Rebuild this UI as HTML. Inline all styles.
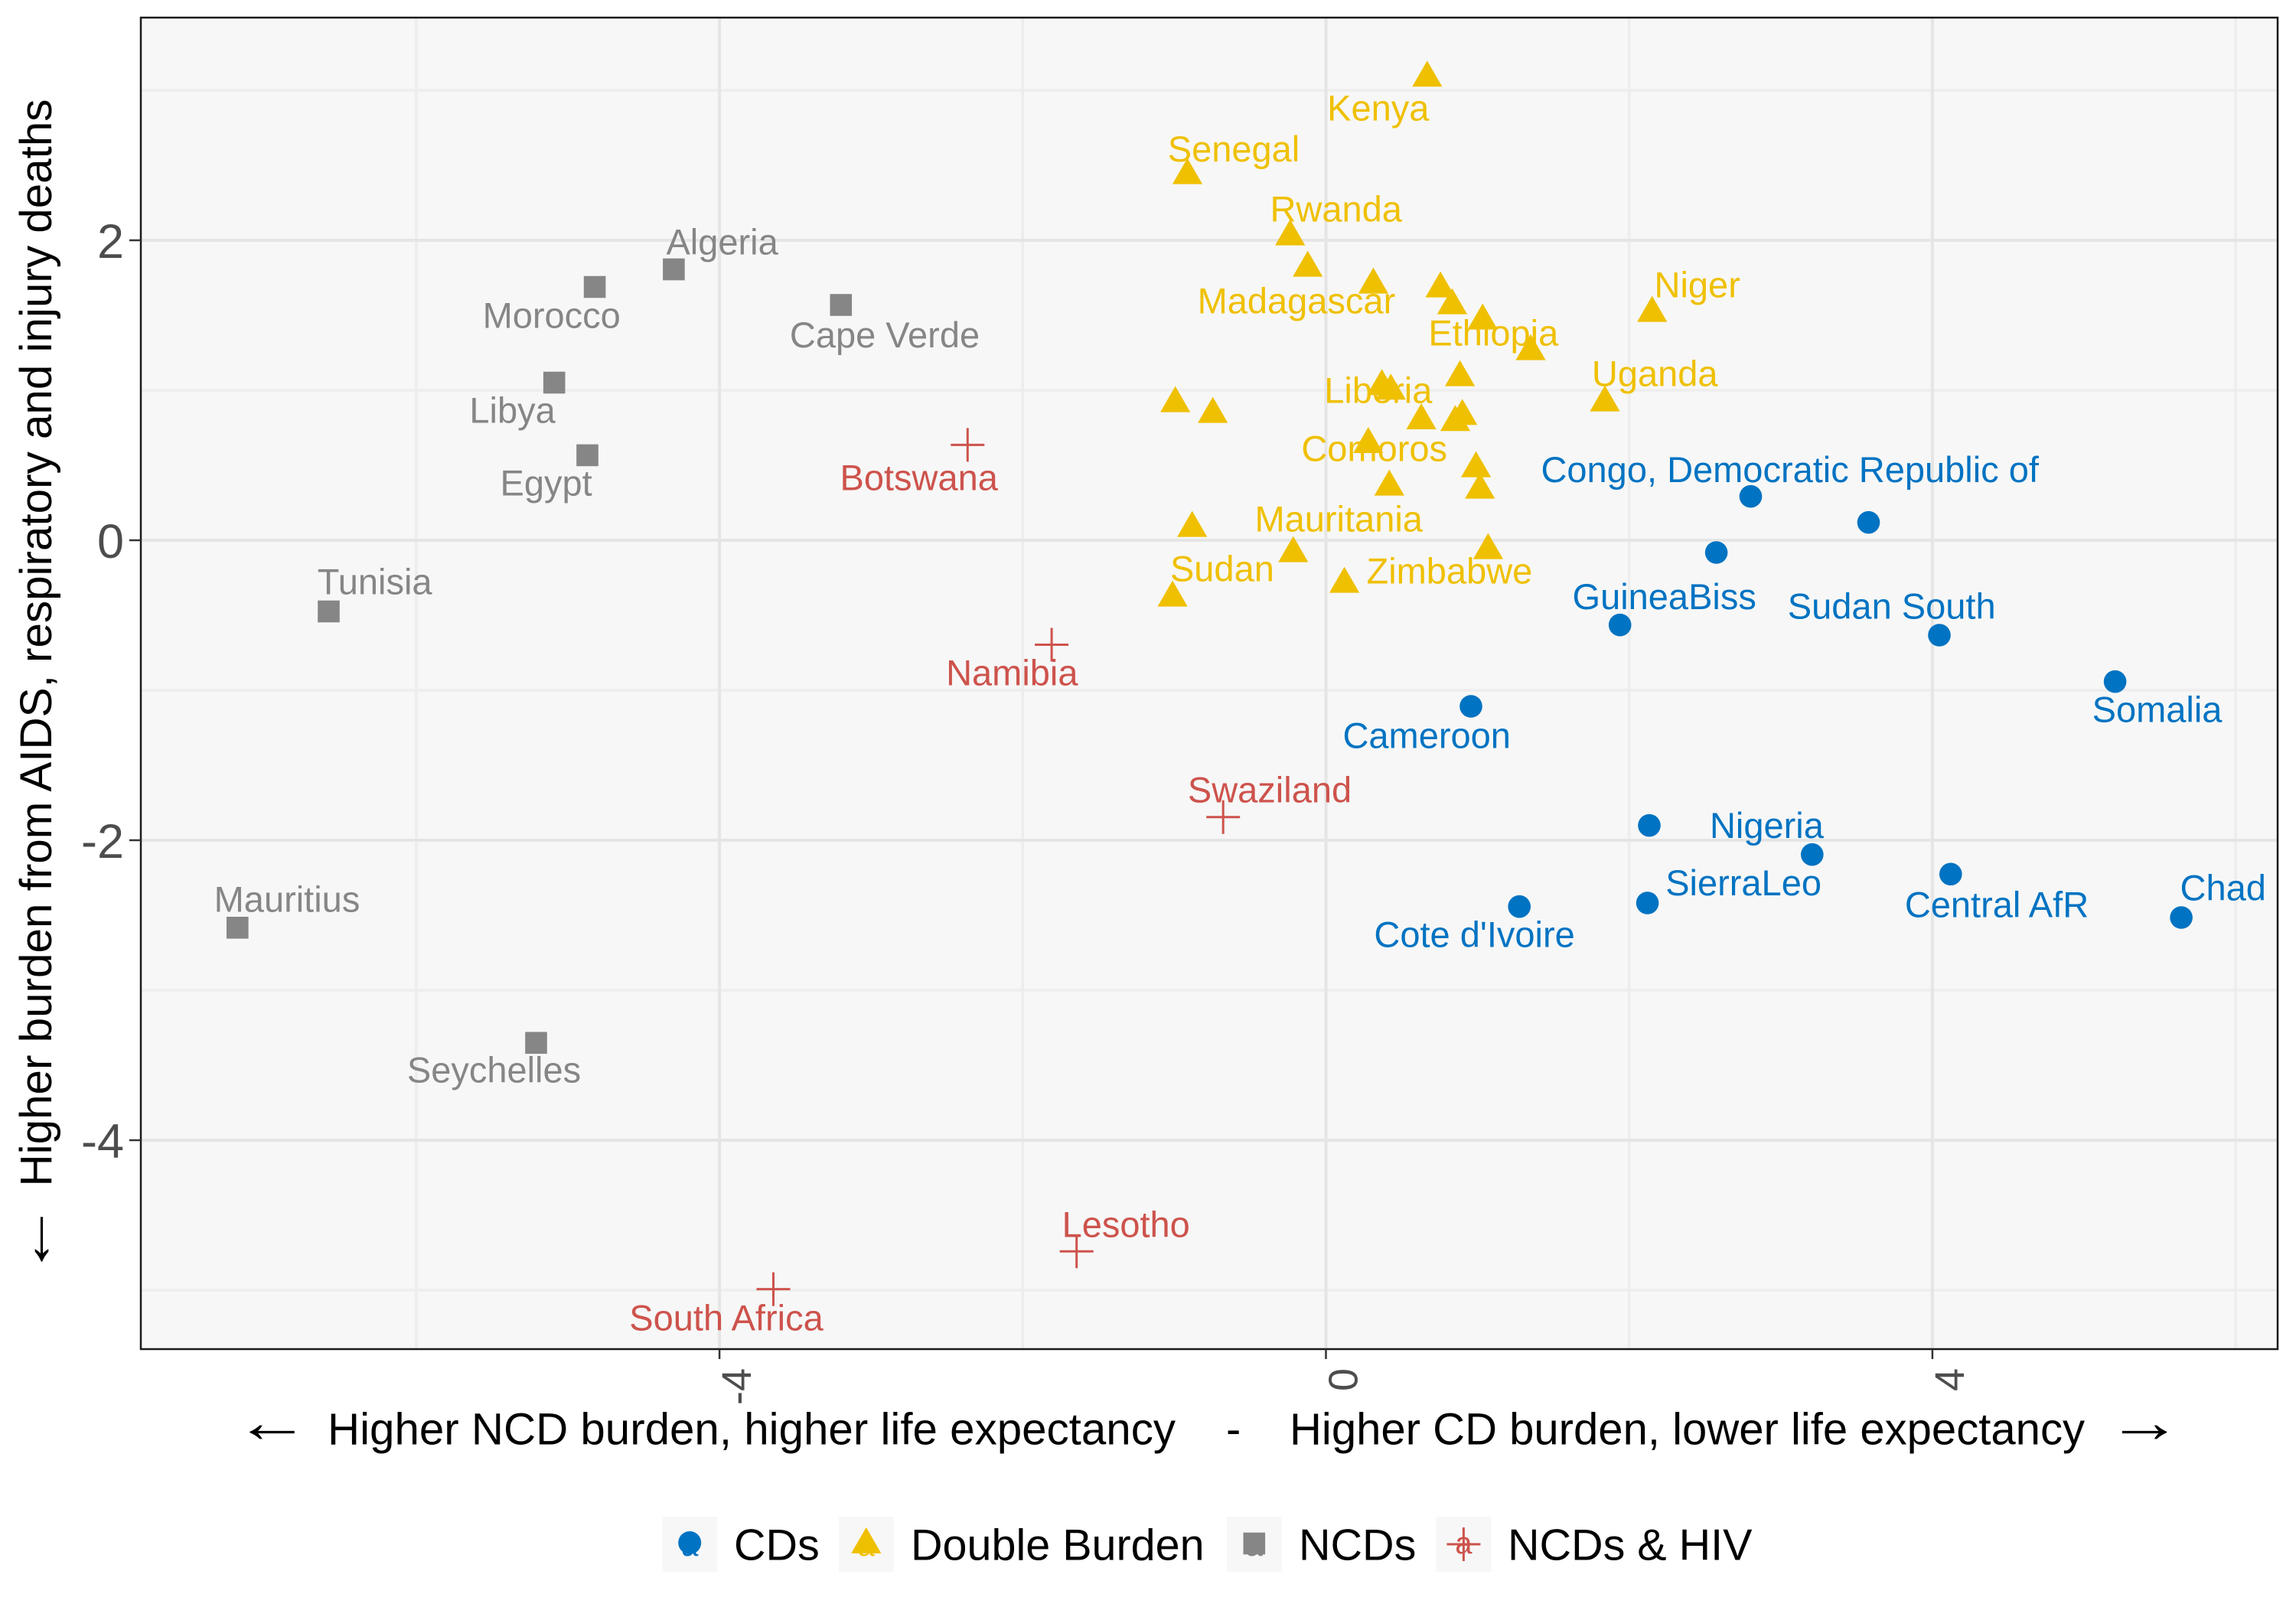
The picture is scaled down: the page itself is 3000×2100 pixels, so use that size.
<!DOCTYPE html>
<html>
<head>
<meta charset="utf-8">
<style>
  html, body { margin: 0; padding: 0; background: #ffffff; }
  svg { display: block; }
  text { font-family: "Liberation Sans", Arial, Helvetica, sans-serif; }
</style>
</head>
<body>
<svg width="3000" height="2100" viewBox="0 0 3000 2100" xmlns="http://www.w3.org/2000/svg">
  <defs>
    <polygon id="tri" points="0,-22.7 19.6,11.3 -19.6,11.3"/>
    <rect id="sq" x="-14.3" y="-14.3" width="28.6" height="28.6"/>
    <path id="cross" d="M-22,0 H22 M0,-22 V22" stroke-width="3" fill="none"/>
    <clipPath id="panelclip"><rect x="184" y="23" width="2792" height="1740"/></clipPath>
  </defs>

  <rect x="0" y="0" width="3000" height="2100" fill="#ffffff"/>

  <!-- Panel -->
  <rect x="184" y="23" width="2792" height="1740" fill="#F7F7F7"/>
  <g clip-path="url(#panelclip)">
    <!-- minor gridlines -->
    <g stroke="#EDEDED" stroke-width="3.5">
      <line x1="543.9" y1="23" x2="543.9" y2="1763"/>
      <line x1="1336.3" y1="23" x2="1336.3" y2="1763"/>
      <line x1="2128.7" y1="23" x2="2128.7" y2="1763"/>
      <line x1="2921.1" y1="23" x2="2921.1" y2="1763"/>
      <line x1="184" y1="118" x2="2976" y2="118"/>
      <line x1="184" y1="510" x2="2976" y2="510"/>
      <line x1="184" y1="902" x2="2976" y2="902"/>
      <line x1="184" y1="1294" x2="2976" y2="1294"/>
      <line x1="184" y1="1686" x2="2976" y2="1686"/>
    </g>
    <!-- major gridlines -->
    <g stroke="#E5E5E5" stroke-width="4">
      <line x1="940.1" y1="23" x2="940.1" y2="1763"/>
      <line x1="1732.5" y1="23" x2="1732.5" y2="1763"/>
      <line x1="2524.9" y1="23" x2="2524.9" y2="1763"/>
      <line x1="184" y1="314" x2="2976" y2="314"/>
      <line x1="184" y1="706" x2="2976" y2="706"/>
      <line x1="184" y1="1098" x2="2976" y2="1098"/>
      <line x1="184" y1="1490" x2="2976" y2="1490"/>
    </g>

    <!-- Labels -->
    <g font-size="47" text-anchor="middle">
      <g fill="#EFC000">
        <text x="1800.8" y="157.3">Kenya</text>
        <text x="1612" y="211">Senegal</text>
        <text x="1745.7" y="289.3">Rwanda</text>
        <text x="1693.9" y="409.3">Madagascar</text>
        <text x="1951.3" y="451.7">Ethiopia</text>
        <text x="2217.7" y="388.3">Niger</text>
        <text x="2162.2" y="504.3">Uganda</text>
        <text x="1800.8" y="526.7">Liberia</text>
        <text x="1795.7" y="602.3">Comoros</text>
        <text x="1749.2" y="694.7">Mauritania</text>
        <text x="1596.9" y="759.3">Sudan</text>
        <text x="1893.9" y="762.7">Zimbabwe</text>
      </g>
      <g fill="#0073C2">
        <text x="2338.7" y="630">Congo, Democratic Republic of</text>
        <text x="2174.7" y="796">GuineaBiss</text>
        <text x="2471.7" y="808.3">Sudan South</text>
        <text x="2818.5" y="943.3">Somalia</text>
        <text x="1864.2" y="977.3">Cameroon</text>
        <text x="2308.4" y="1095">Nigeria</text>
        <text x="2278.1" y="1170">SierraLeo</text>
        <text x="2609" y="1198.3">Central AfR</text>
        <text x="2904.7" y="1176.7">Chad</text>
        <text x="1926.6" y="1237.3">Cote d'Ivoire</text>
      </g>
      <g fill="#868686">
        <text x="943.6" y="332.6">Algeria</text>
        <text x="720.7" y="428.6">Morocco</text>
        <text x="669.6" y="552.7">Libya</text>
        <text x="713.6" y="647.3">Egypt</text>
        <text x="1156" y="454">Cape Verde</text>
        <text x="489.7" y="776.5">Tunisia</text>
        <text x="375" y="1191.3">Mauritius</text>
        <text x="645.5" y="1414.3">Seychelles</text>
      </g>
      <g fill="#CD534C">
        <text x="1200.7" y="640.3">Botswana</text>
        <text x="1322.3" y="895.4">Namibia</text>
        <text x="1659" y="1048.7">Swaziland</text>
        <text x="1471.2" y="1616.4">Lesotho</text>
        <text x="949" y="1738.4">South Africa</text>
      </g>
    </g>

    <!-- Points: Double Burden triangles -->
    <g fill="#EFC000">
      <use href="#tri" x="1864.8" y="102"/>
      <use href="#tri" x="1551.5" y="229.3"/>
      <use href="#tri" x="1685.7" y="309.3"/>
      <use href="#tri" x="1708.7" y="350.3"/>
      <use href="#tri" x="1794.4" y="372.3"/>
      <use href="#tri" x="1882.1" y="377.3"/>
      <use href="#tri" x="1897.4" y="399.3"/>
      <use href="#tri" x="1937.2" y="419.3"/>
      <use href="#tri" x="2158.7" y="409.3"/>
      <use href="#tri" x="2000" y="459.3"/>
      <use href="#tri" x="1907.6" y="493.3"/>
      <use href="#tri" x="1805.6" y="505"/>
      <use href="#tri" x="1817.3" y="511"/>
      <use href="#tri" x="2097" y="526.3"/>
      <use href="#tri" x="1535.7" y="527.3"/>
      <use href="#tri" x="1584.7" y="541.3"/>
      <use href="#tri" x="1857.1" y="549.7"/>
      <use href="#tri" x="1910.7" y="544"/>
      <use href="#tri" x="1901.5" y="552"/>
      <use href="#tri" x="1787.8" y="580.7"/>
      <use href="#tri" x="1928.6" y="612.3"/>
      <use href="#tri" x="1815.3" y="636.3"/>
      <use href="#tri" x="1933.7" y="640.3"/>
      <use href="#tri" x="1557.7" y="690.3"/>
      <use href="#tri" x="1689.8" y="723.3"/>
      <use href="#tri" x="1944.4" y="719.3"/>
      <use href="#tri" x="1756.6" y="763.3"/>
      <use href="#tri" x="1532.1" y="781.3"/>
    </g>

    <!-- CDs circles -->
    <g fill="#0073C2">
      <circle cx="2287.5" cy="648.7" r="14.8"/>
      <circle cx="2441.5" cy="682.7" r="14.8"/>
      <circle cx="2242.6" cy="722" r="14.8"/>
      <circle cx="2116.7" cy="816.7" r="14.8"/>
      <circle cx="2534" cy="830" r="14.8"/>
      <circle cx="2763.6" cy="890.7" r="14.8"/>
      <circle cx="1922" cy="923" r="14.8"/>
      <circle cx="2155" cy="1078.7" r="14.8"/>
      <circle cx="2367.8" cy="1116.7" r="14.8"/>
      <circle cx="2548.8" cy="1142.3" r="14.8"/>
      <circle cx="1985.2" cy="1184.7" r="14.8"/>
      <circle cx="2152.6" cy="1180" r="14.8"/>
      <circle cx="2850.1" cy="1199" r="14.8"/>
    </g>

    <!-- NCDs squares -->
    <g fill="#868686">
      <use href="#sq" x="880.4" y="352"/>
      <use href="#sq" x="777.1" y="375"/>
      <use href="#sq" x="724.2" y="500"/>
      <use href="#sq" x="767.5" y="594.9"/>
      <use href="#sq" x="1098.8" y="398.5"/>
      <use href="#sq" x="429.5" y="799"/>
      <use href="#sq" x="310.3" y="1212.3"/>
      <use href="#sq" x="700.5" y="1362.8"/>
    </g>

    <!-- NCDs & HIV crosses -->
    <g stroke="#CD534C">
      <use href="#cross" x="1264.3" y="581.4"/>
      <use href="#cross" x="1374.1" y="842.5"/>
      <use href="#cross" x="1598.2" y="1067.8"/>
      <use href="#cross" x="1406.7" y="1635.2"/>
      <use href="#cross" x="1010.5" y="1684.6"/>
    </g>
  </g>

  <!-- Panel border -->
  <rect x="184" y="23" width="2792" height="1740" fill="none" stroke="#1a1a1a" stroke-width="2.5"/>

  <!-- Ticks -->
  <g stroke="#333333" stroke-width="2.5">
    <line x1="169" y1="314" x2="184" y2="314"/>
    <line x1="169" y1="706" x2="184" y2="706"/>
    <line x1="169" y1="1098" x2="184" y2="1098"/>
    <line x1="169" y1="1490" x2="184" y2="1490"/>
    <line x1="940.1" y1="1763" x2="940.1" y2="1776"/>
    <line x1="1732.5" y1="1763" x2="1732.5" y2="1776"/>
    <line x1="2524.9" y1="1763" x2="2524.9" y2="1776"/>
  </g>

  <!-- Y tick labels -->
  <g font-size="63" fill="#4D4D4D" text-anchor="end">
    <text x="162" y="337">2</text>
    <text x="162" y="729">0</text>
    <text x="162" y="1121">-2</text>
    <text x="162" y="1513">-4</text>
  </g>

  <!-- X tick labels (rotated) -->
  <g font-size="54" fill="#4D4D4D" text-anchor="end">
    <text transform="translate(981,1788) rotate(-90)">-4</text>
    <text transform="translate(1773.5,1788) rotate(-90)">0</text>
    <text transform="translate(2566,1788) rotate(-90)">4</text>
  </g>

  <!-- X axis title -->
  <g font-size="58" fill="#000000">
    <text transform="translate(355.5,1884) scale(1.7,1.3)" text-anchor="middle" x="0" y="0">←</text>
    <text x="428" y="1887.3" textLength="1108" lengthAdjust="spacingAndGlyphs">Higher NCD burden, higher life expectancy</text>
    <text x="1602" y="1887.3">-</text>
    <text x="1685" y="1887.3" textLength="1039" lengthAdjust="spacingAndGlyphs">Higher CD burden, lower life expectancy</text>
    <text transform="translate(2802,1884) scale(1.7,1.3)" text-anchor="middle" x="0" y="0">→</text>
  </g>

  <!-- Y axis title (rotated) -->
  <g font-size="58" fill="#000000">
    <text transform="translate(67,1619.5) rotate(-90) scale(1.7,1.3)" text-anchor="middle" x="0" y="0">←</text>
    <text transform="translate(67,1550.5) rotate(-90)" textLength="1421" lengthAdjust="spacingAndGlyphs">Higher burden from AIDS, respiratory and injury deaths</text>
  </g>

  <!-- Legend -->
  <g>
    <rect x="865.3" y="1982" width="72" height="72" fill="#F7F7F7"/>
    <rect x="1095.9" y="1982" width="72" height="72" fill="#F7F7F7"/>
    <rect x="1602.9" y="1982" width="72" height="72" fill="#F7F7F7"/>
    <rect x="1876.5" y="1982" width="72" height="72" fill="#F7F7F7"/>

    <circle cx="901.2" cy="2016" r="15" fill="#0073C2"/>
    <text x="901.2" y="2033" font-size="40" text-anchor="middle" fill="#0073C2">a</text>

    <use href="#tri" x="1131.8" y="2018.6" fill="#EFC000"/>
    <text x="1131.8" y="2033" font-size="40" text-anchor="middle" fill="#EFC000">a</text>

    <text x="1638.8" y="2033" font-size="40" text-anchor="middle" fill="#868686">a</text>
    <use href="#sq" x="1638.8" y="2017" fill="#868686"/>

    <text x="1912.4" y="2030" font-size="40" text-anchor="middle" fill="#CD534C">a</text>
    <use href="#cross" x="1912.4" y="2018" stroke="#CD534C"/>

    <g font-size="57.5" fill="#000000">
      <text x="959" y="2038.7">CDs</text>
      <text x="1190" y="2038.7">Double Burden</text>
      <text x="1697" y="2038.7">NCDs</text>
      <text x="1970" y="2038.7">NCDs &amp; HIV</text>
    </g>
  </g>
</svg>
</body>
</html>
